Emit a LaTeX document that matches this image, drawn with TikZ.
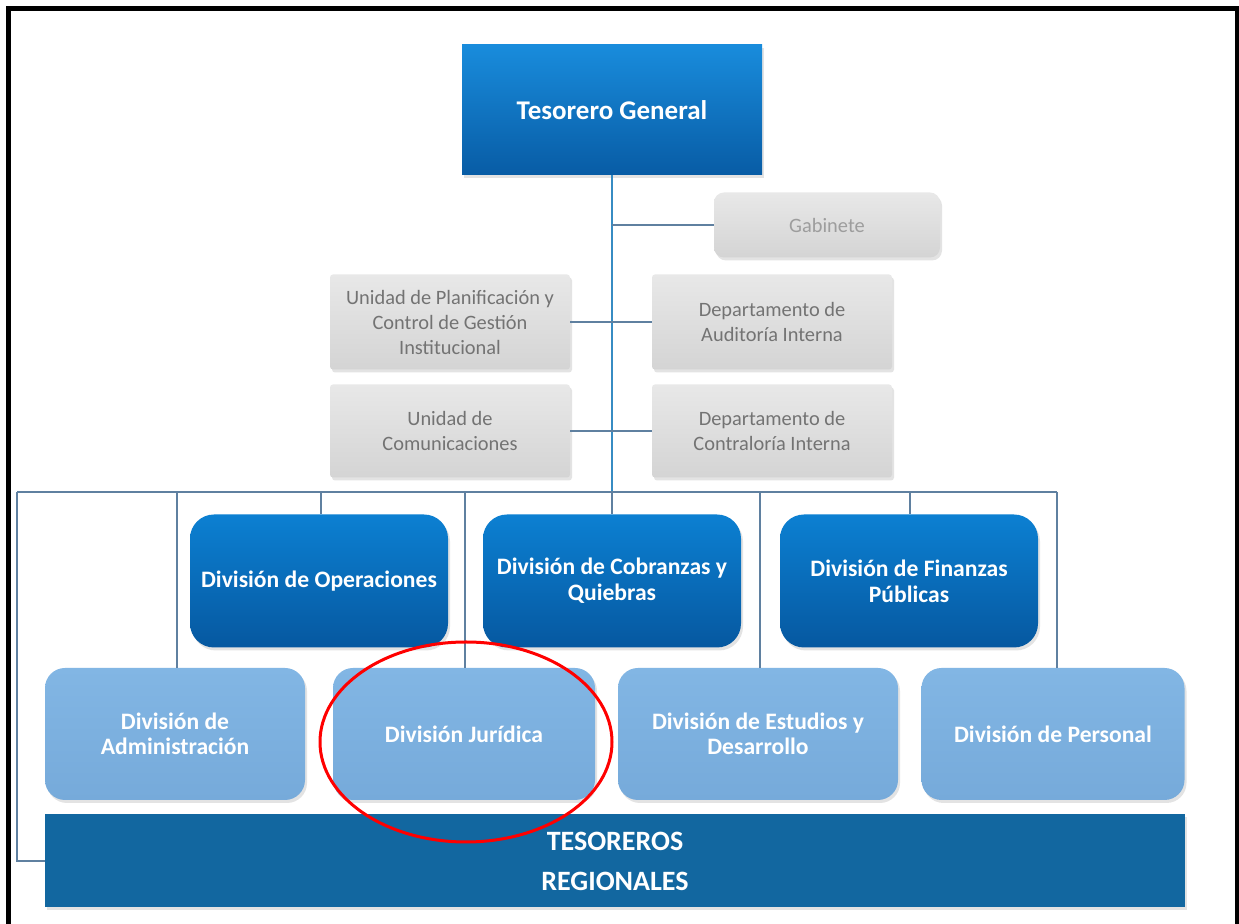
\documentclass[tikz,border=0pt]{standalone}
\usepackage{fontspec}
\setmainfont{Carlito}
\usetikzlibrary{shadows,shapes.geometric}
\definecolor{tgtop}{RGB}{25,140,220}
\definecolor{tgbot}{RGB}{8,92,165}
\definecolor{dbtop}{RGB}{12,128,210}
\definecolor{dbbot}{RGB}{6,88,160}
\definecolor{lbtop}{RGB}{130,182,228}
\definecolor{lbbot}{RGB}{118,170,218}
\definecolor{grtop}{RGB}{232,232,232}
\definecolor{grbot}{RGB}{212,212,212}
\definecolor{grtext}{RGB}{115,115,115}
\definecolor{trfill}{RGB}{18,103,160}
\definecolor{conn}{RGB}{95,128,160}
\definecolor{trunk}{RGB}{55,140,195}
\tikzset{
  shad/.style={drop shadow={opacity=0.22, shadow xshift=1pt, shadow yshift=-1.5pt}},
  topbox/.style={shad, top color=tgtop, bottom color=tgbot, text=white,
    font=\bfseries\fontsize{13.5}{15}\selectfont, minimum width=150pt, minimum height=65pt, align=center},
  graybox/.style={shad, top color=grtop, bottom color=grbot, text=grtext, rounded corners=1.5pt,
    font=\fontsize{10.2}{12.5}\selectfont, minimum width=120pt, align=center, inner sep=2pt},
  darkdiv/.style={shad, top color=dbtop, bottom color=dbbot, text=white, rounded corners=12pt,
    font=\bfseries\fontsize{11.8}{13}\selectfont, minimum width=129pt, minimum height=66.5pt, align=center, inner sep=2pt},
  lightdiv/.style={shad, top color=lbtop, bottom color=lbbot, text=white, rounded corners=10pt,
    font=\bfseries\fontsize{11.8}{12.3}\selectfont, minimum height=66pt, align=center, inner sep=2pt},
  link/.style={draw=conn, line width=1pt},
  trunkline/.style={draw=trunk, line width=1pt}
}
\begin{document}
\begin{tikzpicture}[x=0.5pt,y=-0.5pt]
\useasboundingbox (0,0) rectangle (1239,924);
\fill[white] (0,0) rectangle (1239,924);
% frame
\draw[line width=2.5pt] (8.5,924) -- (8.5,8.5) -- (1237,8.5) -- (1237,924);

% bus coordinates
\coordinate (b0) at (17,492);
\coordinate (b1) at (177,492);
\coordinate (b2) at (321,492);
\coordinate (b3) at (465,492);
\coordinate (b4) at (612,492);
\coordinate (b5) at (760,492);
\coordinate (b6) at (910,492);
\coordinate (b7) at (1057,492);

% nodes
\node[topbox] (tg) at (612,110) {Tesorero General};
\node[graybox, rounded corners=5pt, minimum width=113pt, minimum height=32.5pt, text=grtext!70] (gab) at (827,225) {Gabinete};
\node[graybox, minimum height=47.5pt] (upl) at (450,322) {Unidad de Planificación y\\Control de Gestión\\Institucional};
\node[graybox, minimum height=47.5pt] (dai) at (772,322) {Departamento de\\Auditoría Interna};
\node[graybox, minimum height=46.5pt] (uco) at (450,431) {Unidad de\\Comunicaciones};
\node[graybox, minimum height=46.5pt] (dci) at (772,431) {Departamento de\\Contraloría Interna};

% connectors top part
\draw[trunkline] (tg.south) -- (b4);
\draw[link] (tg.south |- gab.west) -- (gab.west);
\draw[link] (upl.east) -- (dai.west);
\draw[link] (uco.east) -- (dci.west);
\draw[link] (b0) -- (b7);

\node[darkdiv] (dop) at (319,581) {División de Operaciones};
\node[darkdiv] (dcq) at (612,581) {División de Cobranzas y\\Quiebras};
\node[darkdiv] (dfp) at (909,581) {División de Finanzas\\Públicas};

\node[lightdiv, minimum width=130pt] (dad) at (175,734) {División de\\Administración};
\node[lightdiv, minimum width=131pt] (dju) at (464,734) {División Jurídica};
\node[lightdiv, minimum width=140pt] (des) at (758,734) {División de Estudios y\\Desarrollo};
\node[lightdiv, minimum width=131.5pt] (dpe) at (1053,734) {División de Personal};

\node[shad, fill=trfill, text=white, minimum width=570pt, minimum height=46.5pt, align=center,
  font=\bfseries\fontsize{14}{20}\selectfont] (tr) at (615,861) {TESOREROS\\REGIONALES};

% drops from bus
\draw[link] (b0) |- (tr.west);
\draw[link] (b1) -- (b1 |- dad.north);
\draw[link] (b2) -- (b2 |- dop.north);
\draw[link] (b3) -- (b3 |- dju.north);
\draw[link] (b4) -- (b4 |- dcq.north);
\draw[link] (b5) -- (b5 |- des.north);
\draw[link] (b6) -- (b6 |- dfp.north);
\draw[link] (b7) -- (b7 |- dpe.north);

% highlight
\node[draw=red, line width=1.5pt, ellipse, minimum width=146pt, minimum height=100pt] (hl) at (466,742) {};
\end{tikzpicture}
\end{document}
